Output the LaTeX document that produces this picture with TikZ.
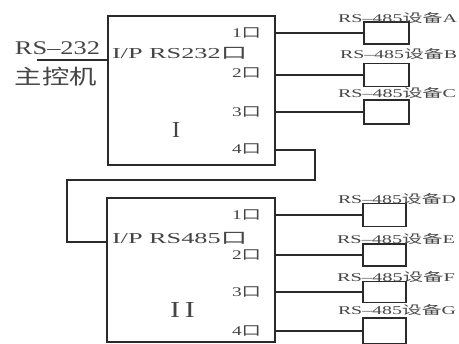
\documentclass[tikz,border=0pt]{standalone}
\usepackage{fontspec}
\usepackage{graphicx}
\setmainfont{Liberation Serif}
\newfontfamily\cjk{Noto Sans CJK SC}
\definecolor{txtc}{HTML}{454545}
\definecolor{linec}{HTML}{2A2A2A}
\newcommand{\fitt}[3]{\resizebox*{#1}{#2}{#3}}
\tikzset{
  txt/.style={inner sep=0pt, outer sep=0pt, text=txtc, anchor=south west},
  bigbox/.style={draw=linec, line width=1.4pt, inner sep=0pt},
  devbox/.style={draw=linec, line width=1.3pt, inner sep=0pt, minimum width=45pt},
  wire/.style={draw=linec, line width=1.4pt},
  portwire/.style={draw=linec, line width=2pt},
}
\begin{document}
\begin{tikzpicture}[x=1pt,y=-1pt]
\clip (0,0) rectangle (459,344);
\fill[white] (0,0) rectangle (459,344);
% main boxes
\node[bigbox, minimum width=167pt, minimum height=149pt] (boxI) at (191.5,90.5) {};
\node[bigbox, minimum width=168pt, minimum height=144pt] (boxII) at (191,270) {};
% host
\node[txt] (rs232) at (15,55) {\fitt{85pt}{13pt}{RS–232}};
\node[txt] (host) at (15,86) {\fitt{82pt}{19pt}{\cjk 主控机}};
\coordinate (hostend) at (37,60);
\draw[wire] (hostend) -- (boxI.west |- hostend);
% box I texts
\node[txt] (ipI) at (112,59) {\fitt{135pt}{12pt}{I/P RS232{\cjk 口}}};
\node[txt] (numI) at (172,138) {\fitt{8pt}{15pt}{I}};
\node[txt] (pI1) at (232,38) {\fitt{29pt}{10.5pt}{1{\cjk 口}}};
\node[txt] (pI2) at (232,78) {\fitt{29pt}{10.5pt}{2{\cjk 口}}};
\node[txt] (pI3) at (232,117) {\fitt{29pt}{10.5pt}{3{\cjk 口}}};
\node[txt] (pI4) at (232,154) {\fitt{29pt}{10.5pt}{4{\cjk 口}}};
% box II texts
\node[txt] (ipII) at (112,244) {\fitt{135pt}{12pt}{I/P RS485{\cjk 口}}};
\node[txt] (numII) at (170,318) {\fitt{25pt}{15pt}{I\,I}};
\node[txt] (pII1) at (232,220) {\fitt{29pt}{10.5pt}{1{\cjk 口}}};
\node[txt] (pII2) at (232,260) {\fitt{29pt}{10.5pt}{2{\cjk 口}}};
\node[txt] (pII3) at (232,297) {\fitt{29pt}{10.5pt}{3{\cjk 口}}};
\node[txt] (pII4) at (232,336) {\fitt{29pt}{10.5pt}{4{\cjk 口}}};
% devices
\node[devbox, minimum height=22pt] (devA) at (386.5,33) {};
\node[devbox, minimum height=23pt] (devB) at (386.5,75) {};
\node[devbox, minimum height=24pt] (devC) at (386.5,112) {};
\node[devbox, minimum height=23pt, minimum width=43pt] (devD) at (384.5,215) {};
\node[devbox, minimum height=22pt, minimum width=43pt] (devE) at (384.5,255) {};
\node[devbox, minimum height=21pt, minimum width=43pt] (devF) at (384.5,292) {};
\node[devbox, minimum height=26pt, minimum width=43pt] (devG) at (384.5,331) {};
% device labels
\node[txt] (lA) at (338,23) {\fitt{119pt}{11pt}{RS–485{\cjk 设备}A}};
\node[txt] (lB) at (340,59) {\fitt{117pt}{11pt}{RS–485{\cjk 设备}B}};
\node[txt] (lC) at (338,98) {\fitt{118pt}{11pt}{RS–485{\cjk 设备}C}};
\node[txt] (lD) at (338,204) {\fitt{118pt}{11pt}{RS–485{\cjk 设备}D}};
\node[txt] (lE) at (337,244) {\fitt{118pt}{11pt}{RS–485{\cjk 设备}E}};
\node[txt] (lF) at (337,282) {\fitt{118pt}{11pt}{RS–485{\cjk 设备}F}};
\node[txt] (lG) at (338,315) {\fitt{118pt}{11pt}{RS–485{\cjk 设备}G}};
% port wires
\draw[portwire] (boxI.east |- devA.west) -- (devA.west);
\draw[portwire] (boxI.east |- devB.west) -- (devB.west);
\draw[portwire] (boxI.east |- devC.west) -- (devC.west);
\draw[portwire] (boxII.east |- devD.west) -- (devD.west);
\draw[portwire] (boxII.east |- devE.west) -- (devE.west);
\draw[portwire] (boxII.east |- devF.west) -- (devF.west);
\draw[portwire] (boxII.east |- devG.west) -- (devG.west);
% link I port 4 -> II input
\coordinate (l1) at (315,150);
\coordinate (l2) at (315,180);
\coordinate (l3) at (67,180);
\coordinate (l4) at (67,242);
\draw[wire] (boxI.east |- l1) -- (l1) -- (l2) -- (l3) -- (l4) -- (boxII.west |- l4);
\end{tikzpicture}
\end{document}
